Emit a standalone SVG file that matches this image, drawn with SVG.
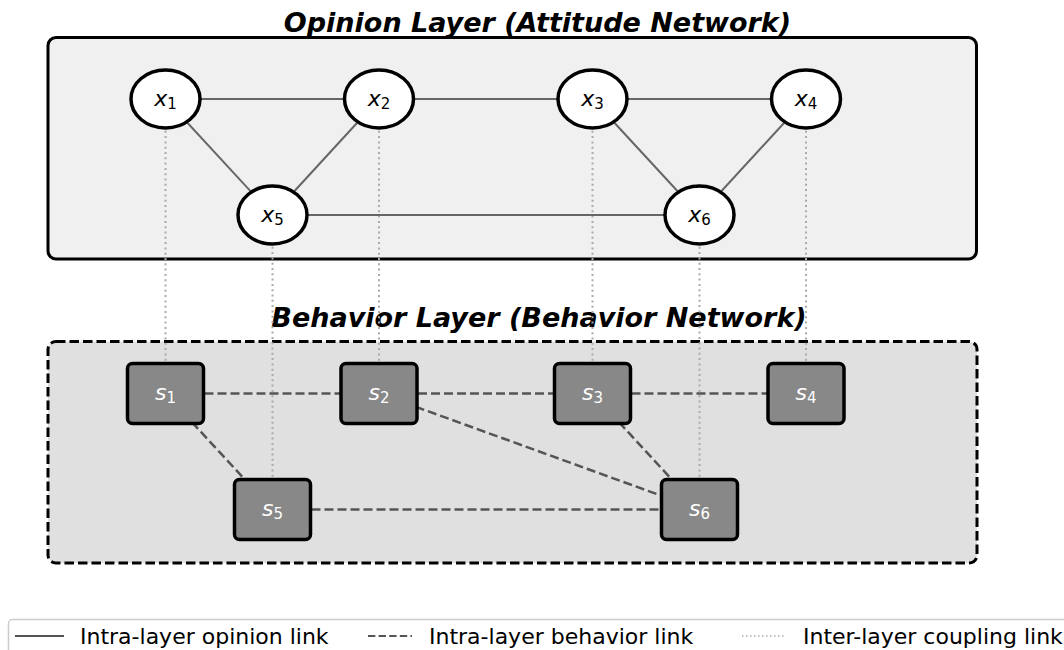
<svg xmlns="http://www.w3.org/2000/svg" width="1064" height="650" viewBox="0 0 1064 650">
<style>
text{font-family:"DejaVu Sans","Liberation Sans",sans-serif}
.title{font-size:27px;font-weight:bold;font-style:italic;text-anchor:middle;fill:#000}
.op{stroke:#666;stroke-width:2;fill:none}
.bh{stroke:#555;stroke-width:2.5;stroke-dasharray:9 4;fill:none}
.cp{stroke:#aaa;stroke-width:2;stroke-dasharray:2 3.3;fill:none}
.onode{fill:#fff;stroke:#000;stroke-width:3.5}
.bnode{fill:#888;stroke:#000;stroke-width:3.5}
.lbl{font-size:22px;text-anchor:middle;fill:#000}
.blbl{font-size:22px;text-anchor:middle;fill:#fff}
.v{font-style:italic}
.sub{font-size:15px}
.leg{font-size:22px;fill:#000}
</style>
<g id="panels">
<rect x="48" y="37.5" width="928.5" height="221.5" rx="8" fill="#f0f0f0" stroke="#000" stroke-width="3"/>
<rect x="48" y="341.5" width="929" height="221.5" rx="8" fill="#e0e0e0" stroke="#000" stroke-width="3" stroke-dasharray="9.5 4"/>
</g>
<text class="title" x="537.5" y="32">Opinion Layer (Attitude Network)</text>
<text class="title" x="539" y="327">Behavior Layer (Behavior Network)</text>
<g id="connectors">
<line class="cp" x1="165.5" y1="99" x2="165.5" y2="393.5"/>
<line class="cp" x1="379" y1="99" x2="379" y2="393.5"/>
<line class="cp" x1="592.5" y1="99" x2="592.5" y2="393.5"/>
<line class="cp" x1="806" y1="99" x2="806" y2="393.5"/>
<line class="cp" x1="272.5" y1="215" x2="272.5" y2="509.5"/>
<line class="cp" x1="699.5" y1="215" x2="699.5" y2="509.5"/>
<line class="op" x1="165.5" y1="99" x2="379" y2="99"/>
<line class="op" x1="379" y1="99" x2="592.5" y2="99"/>
<line class="op" x1="592.5" y1="99" x2="806" y2="99"/>
<line class="op" x1="165.5" y1="99" x2="272.5" y2="215"/>
<line class="op" x1="379" y1="99" x2="272.5" y2="215"/>
<line class="op" x1="272.5" y1="215" x2="699.5" y2="215"/>
<line class="op" x1="592.5" y1="99" x2="699.5" y2="215"/>
<line class="op" x1="806" y1="99" x2="699.5" y2="215"/>
<line class="bh" x1="165.5" y1="393.5" x2="379" y2="393.5"/>
<line class="bh" x1="379" y1="393.5" x2="592.5" y2="393.5"/>
<line class="bh" x1="592.5" y1="393.5" x2="806" y2="393.5"/>
<line class="bh" x1="165.5" y1="393.5" x2="272.5" y2="509.5"/>
<line class="bh" x1="272.5" y1="509.5" x2="699.5" y2="509.5"/>
<line class="bh" x1="379" y1="393.5" x2="699.5" y2="509.5"/>
<line class="bh" x1="592.5" y1="393.5" x2="699.5" y2="509.5"/>
</g>
<g id="x1"><ellipse class="onode" cx="165.5" cy="99" rx="34.5" ry="29"/><text class="lbl" x="165.5" y="106"><tspan class="v">x</tspan><tspan class="sub" dy="3">1</tspan></text></g>
<g id="x2"><ellipse class="onode" cx="379" cy="99" rx="34.5" ry="29"/><text class="lbl" x="379" y="106"><tspan class="v">x</tspan><tspan class="sub" dy="3">2</tspan></text></g>
<g id="x3"><ellipse class="onode" cx="592.5" cy="99" rx="34.5" ry="29"/><text class="lbl" x="592.5" y="106"><tspan class="v">x</tspan><tspan class="sub" dy="3">3</tspan></text></g>
<g id="x4"><ellipse class="onode" cx="806" cy="99" rx="34.5" ry="29"/><text class="lbl" x="806" y="106"><tspan class="v">x</tspan><tspan class="sub" dy="3">4</tspan></text></g>
<g id="x5"><ellipse class="onode" cx="272.5" cy="215" rx="34.5" ry="29"/><text class="lbl" x="272.5" y="222"><tspan class="v">x</tspan><tspan class="sub" dy="3">5</tspan></text></g>
<g id="x6"><ellipse class="onode" cx="699.5" cy="215" rx="34.5" ry="29"/><text class="lbl" x="699.5" y="222"><tspan class="v">x</tspan><tspan class="sub" dy="3">6</tspan></text></g>
<g id="s1"><rect class="bnode" x="127.5" y="363.5" width="76" height="60" rx="5"/><text class="blbl" x="165.5" y="400"><tspan class="v">s</tspan><tspan class="sub" dy="3">1</tspan></text></g>
<g id="s2"><rect class="bnode" x="341" y="363.5" width="76" height="60" rx="5"/><text class="blbl" x="379" y="400"><tspan class="v">s</tspan><tspan class="sub" dy="3">2</tspan></text></g>
<g id="s3"><rect class="bnode" x="554.5" y="363.5" width="76" height="60" rx="5"/><text class="blbl" x="592.5" y="400"><tspan class="v">s</tspan><tspan class="sub" dy="3">3</tspan></text></g>
<g id="s4"><rect class="bnode" x="768" y="363.5" width="76" height="60" rx="5"/><text class="blbl" x="806" y="400"><tspan class="v">s</tspan><tspan class="sub" dy="3">4</tspan></text></g>
<g id="s5"><rect class="bnode" x="234.5" y="479.5" width="76" height="60" rx="5"/><text class="blbl" x="272.5" y="516"><tspan class="v">s</tspan><tspan class="sub" dy="3">5</tspan></text></g>
<g id="s6"><rect class="bnode" x="661.5" y="479.5" width="76" height="60" rx="5"/><text class="blbl" x="699.5" y="516"><tspan class="v">s</tspan><tspan class="sub" dy="3">6</tspan></text></g>
<g id="legend">
<rect x="8.5" y="619.5" width="1080" height="60" rx="4" fill="#fff" stroke="#ccc" stroke-width="1.5"/>
<line x1="15" y1="636" x2="64" y2="636" stroke="#555" stroke-width="2"/>
<text class="leg" x="80" y="644">Intra-layer opinion link</text>
<line x1="368" y1="636" x2="412" y2="636" stroke="#555" stroke-width="2" stroke-dasharray="7.4 3.2"/>
<text class="leg" x="429" y="644">Intra-layer behavior link</text>
<line x1="742" y1="636" x2="786" y2="636" stroke="#aaa" stroke-width="1.5" stroke-dasharray="1.5 2.5"/>
<text class="leg" x="803" y="644">Inter-layer coupling link</text>
</g>
</svg>
